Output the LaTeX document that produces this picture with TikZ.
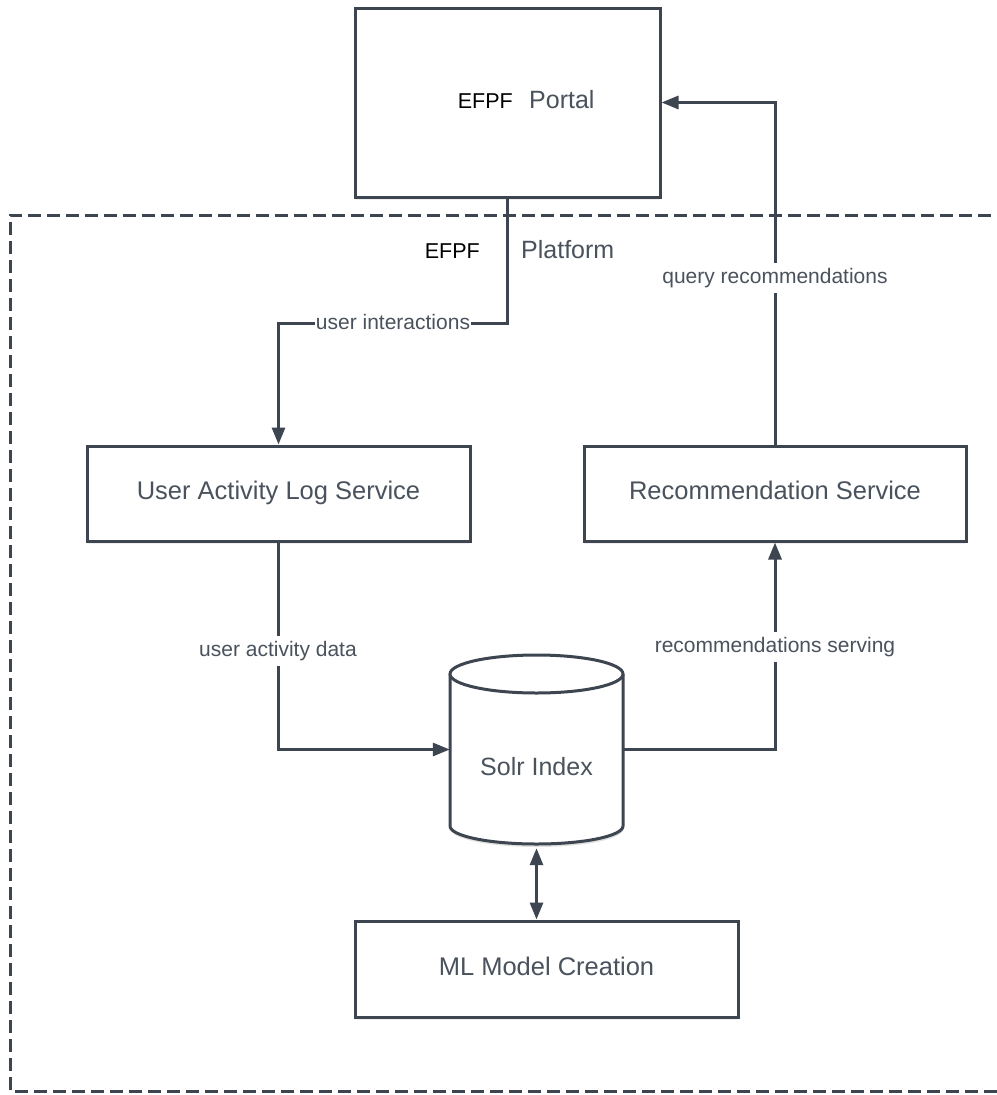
\documentclass[tikz,border=0pt]{standalone}
\usepackage{fontspec}
\setmainfont{Liberation Sans}
\usetikzlibrary{arrows.meta,shadows}
\definecolor{linec}{HTML}{3D4550}
\definecolor{textc}{HTML}{4A525D}
\tikzset{
  box/.style={draw=linec, line width=3pt, fill=white, text=textc, font=\fontsize{25.5}{28}\selectfont,
    drop shadow={opacity=0.12, shadow xshift=0pt, shadow yshift=-3pt}},
  conn/.style={draw=linec, line width=3pt},
  tip/.style={-{Triangle[length=17pt,width=13pt]}},
  lbl/.style={fill=white, text=textc, inner sep=1pt, font=\fontsize{21}{24}\selectfont},
  big/.style={text=textc, font=\fontsize{25}{28}\selectfont, inner sep=0pt},
  efpf/.style={text=black, font=\fontsize{21.5}{24}\selectfont, inner sep=0pt}
}
\begin{document}
\begin{tikzpicture}[x=1pt,y=-1pt]
\useasboundingbox (0,0) rectangle (996,1095);
\fill[white] (0,0) rectangle (996,1095);
% platform dashed frame
\draw[draw=linec, line width=3pt, dash pattern=on 13pt off 6pt] (1010,215) -- (10,215) -- (10,1091) -- (1010,1091);
% boxes
\node[box, minimum width=305pt, minimum height=189pt] (portal) at (507.5,102.5) {};
\node[anchor=base east, efpf] (portalA) at (513,108) {EFPF};
\node[anchor=base west, big] (portalB) at (529,108) {Portal};
\node[efpf, anchor=base east] (platA) at (480,258) {EFPF};
\node[big, anchor=base west] (platB) at (521,258) {Platform};
\node[box, minimum width=383pt, minimum height=95pt] (ual) at (278.5,493.5) {};
\node[big] (ualtext) at (278.5,493) {\fontsize{25.5}{28}\selectfont User Activity Log Service};
\node[box, minimum width=382pt, minimum height=95pt] (rec) at (775,493.5) {};
\node[big] (rectext) at (775,490) {\fontsize{25.5}{28}\selectfont Recommendation Service};
\node[box, minimum width=383pt, minimum height=96pt] (ml) at (546.5,969) {};
\node[big] (mltext) at (546.5,966) {\fontsize{25.5}{28}\selectfont ML Model Creation};
% cylinder
\node[minimum width=173pt, minimum height=189pt, inner sep=0pt] (solr) at (536.5,749.5) {};
\fill[black, opacity=0.12] (450.5,679) -- (450.5,829) arc[start angle=180, end angle=360, x radius=86.5pt, y radius=18pt] -- (623.5,679) -- cycle;
\draw[fill=white, draw=linec, line width=3pt] (450,674) -- (450,826) arc[start angle=180, end angle=360, x radius=86.5pt, y radius=18pt] -- (623,674);
\draw[fill=white, draw=linec, line width=3pt] (536.5,674) ellipse[x radius=86.5pt, y radius=19pt];
\node[big] (solrtext) at (536.5,767) {Solr Index};
% connectors
\draw[conn, tip] (portal.south) -- ++(0,125) -| (ual.north);
\draw[conn, tip] (rec.north) |- (portal.east);
\draw[conn, tip] (ual.south) |- (solr.west);
\draw[conn, tip] (solr.east) -| (rec.south);
\draw[conn, {Triangle[length=17pt,width=13pt]}-{Triangle[length=17pt,width=13pt]}, shorten <=4pt] (solr.south) -- (solr.south |- ml.north);
% labels
\node[lbl] (l1) at (393,322) {user interactions};
\node[lbl, inner sep=5pt] (l2) at (775,278) {query recommendations};
\node[lbl, inner sep=5pt] (l3) at (278,651) {user activity data};
\node[lbl, inner sep=5pt] (l4) at (775,647) {recommendations serving};
\end{tikzpicture}
\end{document}
